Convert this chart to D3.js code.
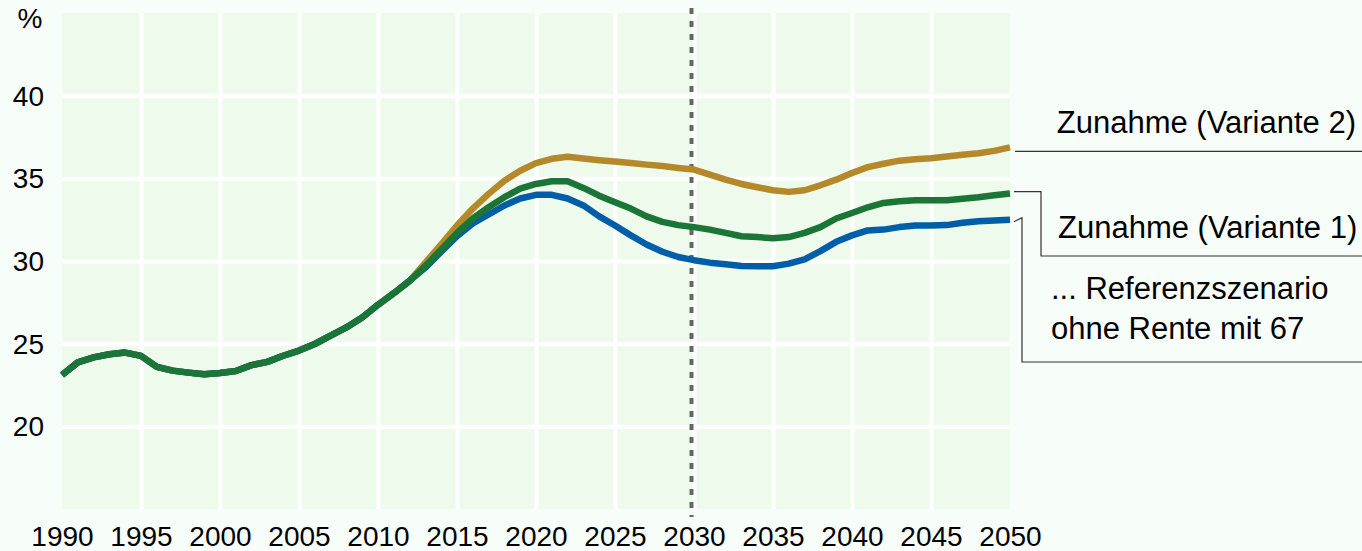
<!DOCTYPE html>
<html>
<head>
<meta charset="utf-8">
<script src="https://cdn.jsdelivr.net/npm/d3@7"></script>
<style>
  body { margin: 0; background: #f7fdf9; }
  svg { display: block; font-family: "Liberation Sans", Arial, sans-serif; }
</style>
</head>
<body>
<div id="chart"></div>
<script>
"use strict";
const years = d3.range(1990, 2051);
const xTicks = [1990, 1995, 2000, 2005, 2010, 2015, 2020, 2025, 2030, 2035, 2040, 2045, 2050];
const yTicks = [20, 25, 30, 35, 40];

// Zunahme (Variante 2)
const variante2 = [23.1, 23.87, 24.17, 24.36, 24.46, 24.26, 23.6, 23.37, 23.25, 23.15,
  23.23, 23.35, 23.7, 23.9, 24.27, 24.58, 24.98, 25.48, 25.98, 26.58,
  27.35, 28.05, 28.8, 29.9, 31.0, 32.15, 33.17, 34.06, 34.86, 35.46,
  35.92, 36.18, 36.3, 36.2, 36.1, 36.02, 35.93, 35.83, 35.74, 35.63,
  35.53, 35.22, 34.92, 34.66, 34.46, 34.28, 34.18, 34.28, 34.58, 34.92,
  35.32, 35.68, 35.88, 36.07, 36.16, 36.22, 36.32, 36.42, 36.52, 36.66, 36.87];
// Zunahme (Variante 1)
const variante1 = [23.1, 23.87, 24.17, 24.36, 24.46, 24.26, 23.6, 23.37, 23.25, 23.15,
  23.23, 23.35, 23.7, 23.9, 24.27, 24.58, 24.98, 25.48, 25.98, 26.58,
  27.35, 28.05, 28.8, 29.7, 30.7, 31.7, 32.57, 33.25, 33.86, 34.38,
  34.66, 34.82, 34.82, 34.42, 33.95, 33.55, 33.17, 32.7, 32.37, 32.17,
  32.05, 31.9, 31.7, 31.5, 31.45, 31.37, 31.45, 31.7, 32.05, 32.57,
  32.9, 33.25, 33.51, 33.61, 33.67, 33.67, 33.67, 33.77, 33.86, 33.98, 34.08];
// Referenzszenario ohne Rente mit 67
const referenz = [23.1, 23.87, 24.17, 24.36, 24.46, 24.26, 23.6, 23.37, 23.25, 23.15,
  23.23, 23.35, 23.7, 23.9, 24.27, 24.58, 24.98, 25.48, 25.98, 26.58,
  27.35, 28.05, 28.8, 29.6, 30.56, 31.5, 32.27, 32.81, 33.36, 33.78,
  34.0, 34.0, 33.78, 33.36, 32.7, 32.15, 31.55, 31.0, 30.56, 30.24,
  30.05, 29.9, 29.8, 29.7, 29.68, 29.68, 29.84, 30.1, 30.6, 31.16,
  31.55, 31.85, 31.9, 32.05, 32.15, 32.15, 32.17, 32.31, 32.4, 32.45, 32.5];

const width = 1362, height = 551;
const marginLeft = 62, plotRight = 1010, marginTop = 13, plotBottom = 509;

const x = d3.scaleLinear().domain([1990, 2050]).range([marginLeft, plotRight]);
const y = d3.scaleLinear().domain([15, 45]).range([plotBottom, marginTop]);

const svg = d3.select("#chart").append("svg")
    .attr("width", width)
    .attr("height", height);

svg.append("rect")
    .attr("x", marginLeft).attr("y", marginTop)
    .attr("width", plotRight - marginLeft).attr("height", plotBottom - marginTop)
    .attr("fill", "#edfaec");

// grid
svg.append("g")
    .attr("transform", `translate(0,${plotBottom})`)
    .call(d3.axisBottom(x).tickValues(xTicks.slice(1, -1)).tickSize(-(plotBottom - marginTop)).tickFormat(""))
    .call(g => g.select(".domain").remove())
    .call(g => g.selectAll("line").attr("stroke", "#fff").attr("stroke-width", 4));
svg.append("g")
    .attr("transform", `translate(${marginLeft},0)`)
    .call(d3.axisLeft(y).tickValues(yTicks).tickSize(-(plotRight - marginLeft)).tickFormat(""))
    .call(g => g.select(".domain").remove())
    .call(g => g.selectAll("line").attr("stroke", "#fff").attr("stroke-width", 4));

// tick labels
svg.append("g")
    .attr("transform", `translate(0,${plotBottom})`)
    .call(d3.axisBottom(x).tickValues(xTicks).tickSize(0).tickPadding(0).tickFormat(d3.format("d")))
    .call(g => g.select(".domain").remove())
    .call(g => g.selectAll("text")
        .attr("y", 37).attr("dy", null)
        .attr("fill", "#000").style("font-size", "28px"));
svg.append("g")
    .attr("transform", "translate(44,0)")
    .call(d3.axisLeft(y).tickValues(yTicks).tickSize(0).tickPadding(0))
    .call(g => g.select(".domain").remove())
    .call(g => g.selectAll("text")
        .attr("x", 0).attr("dy", "0.34em")
        .attr("fill", "#000").style("font-size", "28px"));
svg.append("text")
    .attr("x", 30).attr("y", 28)
    .attr("text-anchor", "middle")
    .style("font-size", "28px")
    .text("%");

// 2030 marker
svg.append("line")
    .attr("x1", x(2030) - 2.5).attr("x2", x(2030) - 2.5)
    .attr("y1", 8).attr("y2", 517)
    .attr("stroke", "#666")
    .attr("stroke-width", 4)
    .attr("stroke-dasharray", "6 7");

const series = [
  {name: "Zunahme (Variante 2)", values: variante2, color: "#b5892a"},
  {name: "Referenz", values: referenz, color: "#005ea8"},
  {name: "Zunahme (Variante 1)", values: variante1, color: "#1a7537"}
];

const line = d3.line()
    .x((d, i) => x(years[i]))
    .y(d => y(d));

svg.append("g")
    .attr("fill", "none")
    .attr("stroke-width", 6.5)
    .attr("stroke-linejoin", "round")
  .selectAll("path")
  .data(series)
  .join("path")
    .attr("stroke", d => d.color)
    .attr("d", d => line(d.values));

// labels with leader lines
const xe = x(2050);
const leaders = svg.append("g")
    .attr("fill", "none")
    .attr("stroke", "#333")
    .attr("stroke-width", 1.2);
leaders.append("path")
    .attr("d", `M${xe + 5},${y(36.87) + 4}H${width}`);
leaders.append("path")
    .attr("d", `M${xe + 4},${y(34.08) - 2}H1041V256H${width}`);
leaders.append("path")
    .attr("d", `M${xe + 4},${y(32.5) + 2}L1022,${y(32.5) - 2}V362H${width}`);

const labels = svg.append("g").style("font-size", "31px").attr("fill", "#000");
labels.append("text").attr("x", 1356).attr("y", 133).attr("text-anchor", "end").text("Zunahme (Variante 2)");
labels.append("text").attr("x", 1058).attr("y", 238).text("Zunahme (Variante 1)");
labels.append("text").attr("x", 1051).attr("y", 299).text("... Referenzszenario");
labels.append("text").attr("x", 1051).attr("y", 339).text("ohne Rente mit 67");
</script>
</body>
</html>
